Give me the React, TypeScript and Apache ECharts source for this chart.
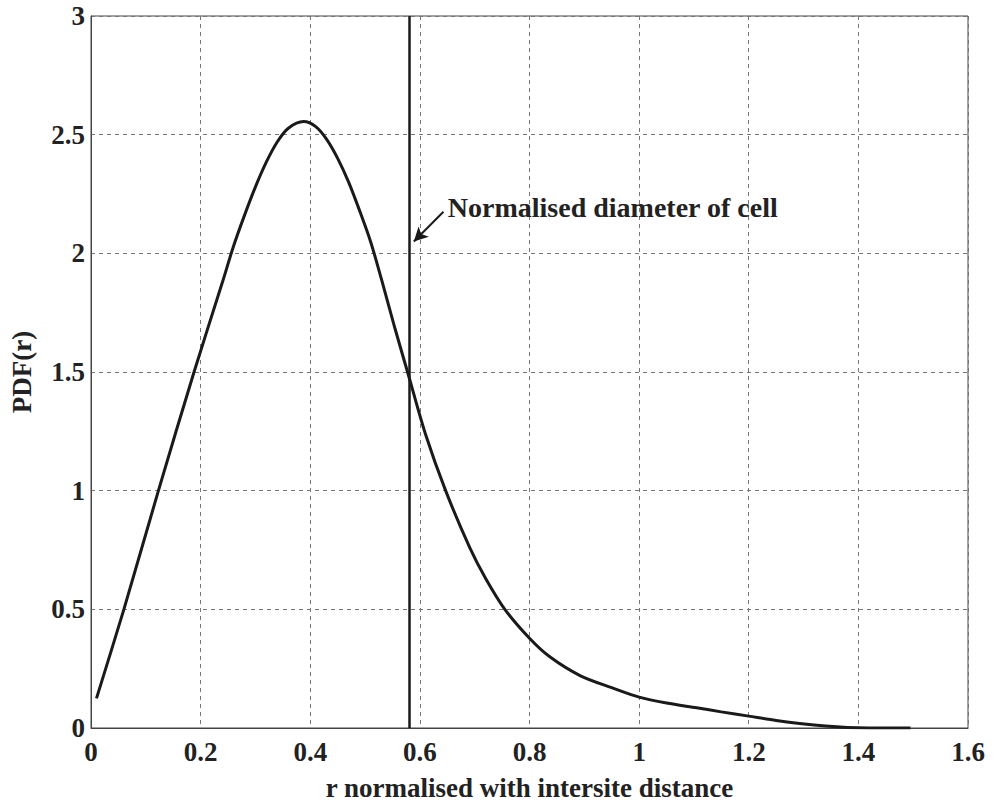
import React, { useEffect, useRef } from "react";
import * as echarts from "echarts";

const rValues = [0.01, 0.06, 0.123, 0.188, 0.24, 0.26, 0.28, 0.3, 0.32, 0.34, 0.36, 0.388, 0.41, 0.43, 0.45, 0.47, 0.49, 0.51, 0.53, 0.555, 0.58, 0.61, 0.647, 0.691, 0.72, 0.755, 0.8, 0.837, 0.893, 0.95, 1.0, 1.05, 1.105, 1.15, 1.2, 1.25, 1.297, 1.34, 1.38, 1.42, 1.495];
const pdfValues = [0.125, 0.5, 1.0, 1.5, 1.88, 2.03, 2.16, 2.28, 2.385, 2.47, 2.527, 2.555, 2.534, 2.48, 2.4, 2.3, 2.18, 2.05, 1.89, 1.68, 1.48, 1.24, 1.0, 0.76, 0.63, 0.5, 0.378, 0.3, 0.22, 0.17, 0.13, 0.105, 0.085, 0.068, 0.05, 0.032, 0.018, 0.008, 0.002, 0, 0];
const cellDiameter = 0.577;
const annotationText = "Normalised diameter of cell";
const arrowTail = [0.643, 2.175];
const arrowHead = [0.589, 2.05];
const annotationAnchor = [0.651, 2.195];
const xTitle = "r normalised with intersite distance";
const yTitle = "PDF(r)";

const FONT = "'Liberation Serif', 'Times New Roman', serif";

export default function App() {
  const ref = useRef<HTMLDivElement>(null);
  useEffect(() => {
    if (!ref.current) return;
    const chart = echarts.init(ref.current, undefined, { renderer: "svg" });
    const fmt = (v: number) => String(+v.toFixed(2));
    const gridLine = { show: true, lineStyle: { color: "#777", width: 1, type: [4, 4] as any } };
    chart.setOption({
      animation: false,
      backgroundColor: "#fff",
      grid: { left: 90, top: 16, width: 878, height: 716, show: true, borderColor: "#444", borderWidth: 1 },
      xAxis: {
        type: "value",
        min: 0,
        max: 1.6,
        interval: 0.2,
        name: xTitle,
        nameLocation: "middle",
        nameGap: 46,
        nameTextStyle: { fontFamily: FONT, fontWeight: "bold", fontSize: 27, color: "#222" },
        axisLine: { show: true, lineStyle: { color: "#444", width: 1 } },
        axisTick: { show: false },
        axisLabel: { fontFamily: FONT, fontWeight: "bold", fontSize: 27, color: "#222", margin: 10, formatter: fmt },
        splitLine: gridLine,
      },
      yAxis: {
        type: "value",
        min: 0,
        max: 3,
        interval: 0.5,
        name: yTitle,
        nameLocation: "middle",
        nameGap: 56,
        nameRotate: 90,
        nameTextStyle: { fontFamily: FONT, fontWeight: "bold", fontSize: 27, color: "#222" },
        axisLine: { show: true, lineStyle: { color: "#444", width: 1 } },
        axisTick: { show: false },
        axisLabel: { fontFamily: FONT, fontWeight: "bold", fontSize: 27, color: "#222", margin: 6, formatter: fmt },
        splitLine: gridLine,
      },
      series: [
        {
          type: "line",
          data: rValues.map((r, i) => [r, pdfValues[i]]),
          showSymbol: false,
          smooth: 0.3,
          lineStyle: { color: "#1a1a1a", width: 3 },
          markLine: {
            silent: true,
            symbol: "none",
            label: { show: false },
            data: [
              { xAxis: cellDiameter, lineStyle: { color: "#1a1a1a", width: 2.5, type: "solid" } },
              [
                { coord: arrowTail, symbol: "none" },
                { coord: arrowHead, symbol: "arrow", symbolSize: [11, 14] },
              ],
            ],
            lineStyle: { color: "#1a1a1a", width: 2, type: "solid" },
          },
          markPoint: {
            silent: true,
            symbol: "circle",
            symbolSize: 0,
            data: [
              {
                coord: annotationAnchor,
                label: {
                  show: true,
                  position: "right",
                  distance: 0,
                  formatter: annotationText,
                  fontFamily: FONT,
                  fontWeight: "bold",
                  fontSize: 28,
                  color: "#222",
                },
              },
            ],
          },
        },
      ],
    });
    return () => chart.dispose();
  }, []);
  return <div ref={ref} style={{ position: "fixed", left: 0, top: 0, width: 994, height: 806, background: "#fff" }} />;
}
